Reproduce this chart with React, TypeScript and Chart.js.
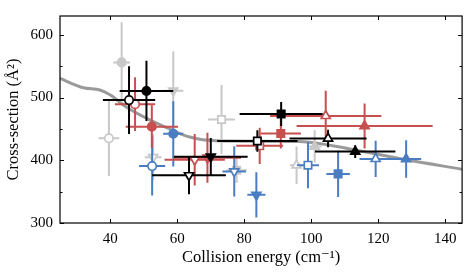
import { useEffect, useRef } from 'react';
import { Chart, registerables } from 'chart.js';

Chart.register(...registerables);

// ---- data ----
const xTicks = [40, 60, 80, 100, 120, 140];
const yTicks = [300, 400, 500, 600];
const yMinorTicks = [350, 450, 550];

const curveX = [25, 32, 36.9, 39.9, 44.9, 52.7, 56.8, 63.7, 71.7, 84, 96.5, 112.3, 128.3, 145];
const curveY = [530.5, 515.6, 512, 504.5, 484.6, 462, 452, 437, 431, 430.5, 430, 417.2, 400.7, 385.8];

// marker order shared by all series
const markerShape = ['circle', 'circle', 'tridown', 'tridown', 'rect', 'rect', 'triangle', 'triangle'];
const markerFilled = [false, true, false, true, false, true, false, true];

const grayX = [39.6, 43.4, 52.8, 58.8, 73.2, 77.7, 95.6, 101.0];
const grayY = [435, 556, 405, 511, 465, 384, 392, 422];
const grayXErr = [3.1, 2.5, 2.5, 3.0, 4.0, 3.0, 2.0, 2.0];
const grayYErr = [60, 64, 37, 63, 55, 20, 30, 26];

const blueX = [52.5, 58.8, 77.0, 83.6, 99.0, 108.0, 119.2, 128.3];
const blueY = [390.7, 442.2, 382.3, 344.9, 392.2, 378.3, 402.2, 402];
const blueXErr = [3.9, 3.0, 3.5, 2.7, 3.3, 3.5, 4.8, 4.5];
const blueYErr = [47, 52, 40, 36, 37, 37, 29, 30];

const redX = [47.4, 52.4, 65.2, 69.0, 84.6, 90.9, 104.3, 115.9];
const redY = [489.5, 453.6, 400.7, 404, 423, 442.7, 470.7, 454.6];
const redXErr = [6, 7.8, 9, 10, 7, 6, 16.6, 20.3];
const redYErr = [43, 34, 41, 40, 29, 24, 40, 36];

const blackX = [45.6, 50.8, 63.5, 70.0, 83.9, 91.0, 105.0, 113.1];
const blackY = [496, 510.5, 376, 405.7, 430.7, 473.7, 434.7, 413.8];
const blackXErr = [7.8, 8.0, 11, 11, 12, 12.4, 11.5, 12];
const blackYErr = [54, 48, 30, 30, 17, 19, 14, 10];

const GRAY = '#c8c8c8';
const BLUE = '#4a7dc2';
const RED = '#c5504f';
const BLACK = '#000000';
const CURVE = '#9a9a9a';
const FONT = '"Liberation Serif", "DejaVu Serif", serif';

function series(xs: number[], ys: number[], ex: number[], ey: number[], color: string, order: number) {
  return {
    type: 'scatter' as const,
    data: xs.map((x, i) => ({ x, y: ys[i] })),
    errX: ex,
    errY: ey,
    errColor: color,
    order,
    pointStyle: markerShape.map((s) => (s === 'tridown' ? 'triangle' : s)),
    pointRotation: markerShape.map((s) => (s === 'tridown' ? 180 : 0)),
    pointRadius: markerShape.map((s) => (s === 'circle' ? 4.2 : s === 'rect' ? 5.2 : 5.2)),
    pointBackgroundColor: markerFilled.map((f) => (f ? color : '#ffffff')),
    pointBorderColor: color,
    pointBorderWidth: 1.7,
    showLine: false,
  };
}

const errorBarPlugin = {
  id: 'errbars',
  beforeDatasetDraw(chart: any, args: any) {
    const ds = chart.data.datasets[args.index];
    if (!ds.errX) return;
    const { ctx, chartArea } = chart;
    const xs = chart.scales.x;
    const ys = chart.scales.y;
    ctx.save();
    ctx.beginPath();
    ctx.rect(chartArea.left, chartArea.top, chartArea.right - chartArea.left, chartArea.bottom - chartArea.top);
    ctx.clip();
    ctx.strokeStyle = ds.errColor;
    ctx.lineWidth = 2;
    ds.data.forEach((p: any, i: number) => {
      const px = xs.getPixelForValue(p.x);
      const py = ys.getPixelForValue(p.y);
      ctx.beginPath();
      ctx.moveTo(xs.getPixelForValue(p.x - ds.errX[i]), py);
      ctx.lineTo(xs.getPixelForValue(p.x + ds.errX[i]), py);
      ctx.moveTo(px, ys.getPixelForValue(p.y - ds.errY[i]));
      ctx.lineTo(px, ys.getPixelForValue(p.y + ds.errY[i]));
      ctx.stroke();
    });
    ctx.restore();
  },
};

const framePlugin = {
  id: 'frame',
  afterDraw(chart: any) {
    const { ctx, chartArea } = chart;
    const { left, right, top, bottom } = chartArea;
    const xs = chart.scales.x;
    const ys = chart.scales.y;
    ctx.save();
    ctx.strokeStyle = '#000';
    ctx.lineWidth = 1;
    ctx.beginPath();
    xTicks.forEach((v) => {
      const x = Math.round(xs.getPixelForValue(v)) + 0.5;
      ctx.moveTo(x, bottom);
      ctx.lineTo(x, bottom - 4);
      ctx.moveTo(x, top);
      ctx.lineTo(x, top + 4);
    });
    yTicks.forEach((v) => {
      const y = Math.round(ys.getPixelForValue(v)) + 0.5;
      ctx.moveTo(left, y);
      ctx.lineTo(left + 4, y);
      ctx.moveTo(right, y);
      ctx.lineTo(right - 4, y);
    });
    yMinorTicks.forEach((v) => {
      const y = Math.round(ys.getPixelForValue(v)) + 0.5;
      ctx.moveTo(left, y);
      ctx.lineTo(left + 2.5, y);
      ctx.moveTo(right, y);
      ctx.lineTo(right - 2.5, y);
    });
    ctx.stroke();
    ctx.lineWidth = 1.2;
    ctx.strokeRect(left, top, right - left, bottom - top);
    ctx.restore();
  },
};

export default function App() {
  const ref = useRef<HTMLCanvasElement | null>(null);
  useEffect(() => {
    document.body.style.margin = '0';
    const canvas = ref.current;
    if (!canvas) return;
    const chart = new Chart(canvas, {
      type: 'scatter',
      data: {
        datasets: [
          {
            type: 'line' as const,
            data: curveX.map((x, i) => ({ x, y: curveY[i] })),
            borderColor: CURVE,
            borderWidth: 3,
            pointRadius: 0,
            cubicInterpolationMode: 'monotone' as const,
            order: 10,
          } as any,
          series(grayX, grayY, grayXErr, grayYErr, GRAY, 5) as any,
          series(blueX, blueY, blueXErr, blueYErr, BLUE, 4) as any,
          series(redX, redY, redXErr, redYErr, RED, 3) as any,
          series(blackX, blackY, blackXErr, blackYErr, BLACK, 2) as any,
        ],
      },
      options: {
        animation: false,
        responsive: false,
        events: [],
        layout: { padding: { top: 3, right: 6, left: 0, bottom: 0 } },
        plugins: { legend: { display: false }, tooltip: { enabled: false } },
        scales: {
          x: {
            type: 'linear',
            min: 25,
            max: 145,
            grid: { display: false, drawTicks: false },
            border: { display: false },
            afterBuildTicks: (s: any) => {
              s.ticks = xTicks.map((v) => ({ value: v }));
            },
            afterFit: (s: any) => {
              s.height = 50;
            },
            ticks: { color: '#000', font: { family: FONT, size: 15 }, padding: 7, maxRotation: 0 },
            title: {
              display: true,
              text: 'Collision energy (cm⁻¹)',
              color: '#000',
              font: { family: FONT, size: 16.5 },
              padding: { top: 0, bottom: 5 },
            },
          },
          y: {
            type: 'linear',
            min: 300,
            max: 630,
            grid: { display: false, drawTicks: false },
            border: { display: false },
            afterBuildTicks: (s: any) => {
              s.ticks = yTicks.map((v) => ({ value: v }));
            },
            afterFit: (s: any) => {
              s.width = 60;
            },
            ticks: { color: '#000', font: { family: FONT, size: 15 }, padding: 7 },
            title: {
              display: true,
              text: 'Cross-section (Å²)',
              color: '#000',
              font: { family: FONT, size: 16.5 },
              padding: { top: 4, bottom: 0 },
            },
          },
        },
      } as any,
      plugins: [errorBarPlugin, framePlugin],
    });
    return () => chart.destroy();
  }, []);
  return (
    <div style={{ position: 'absolute', left: 0, top: 0, width: 469, height: 273 }}>
      <canvas ref={ref} width={469} height={273} style={{ width: 469, height: 273, display: 'block' }} />
    </div>
  );
}
